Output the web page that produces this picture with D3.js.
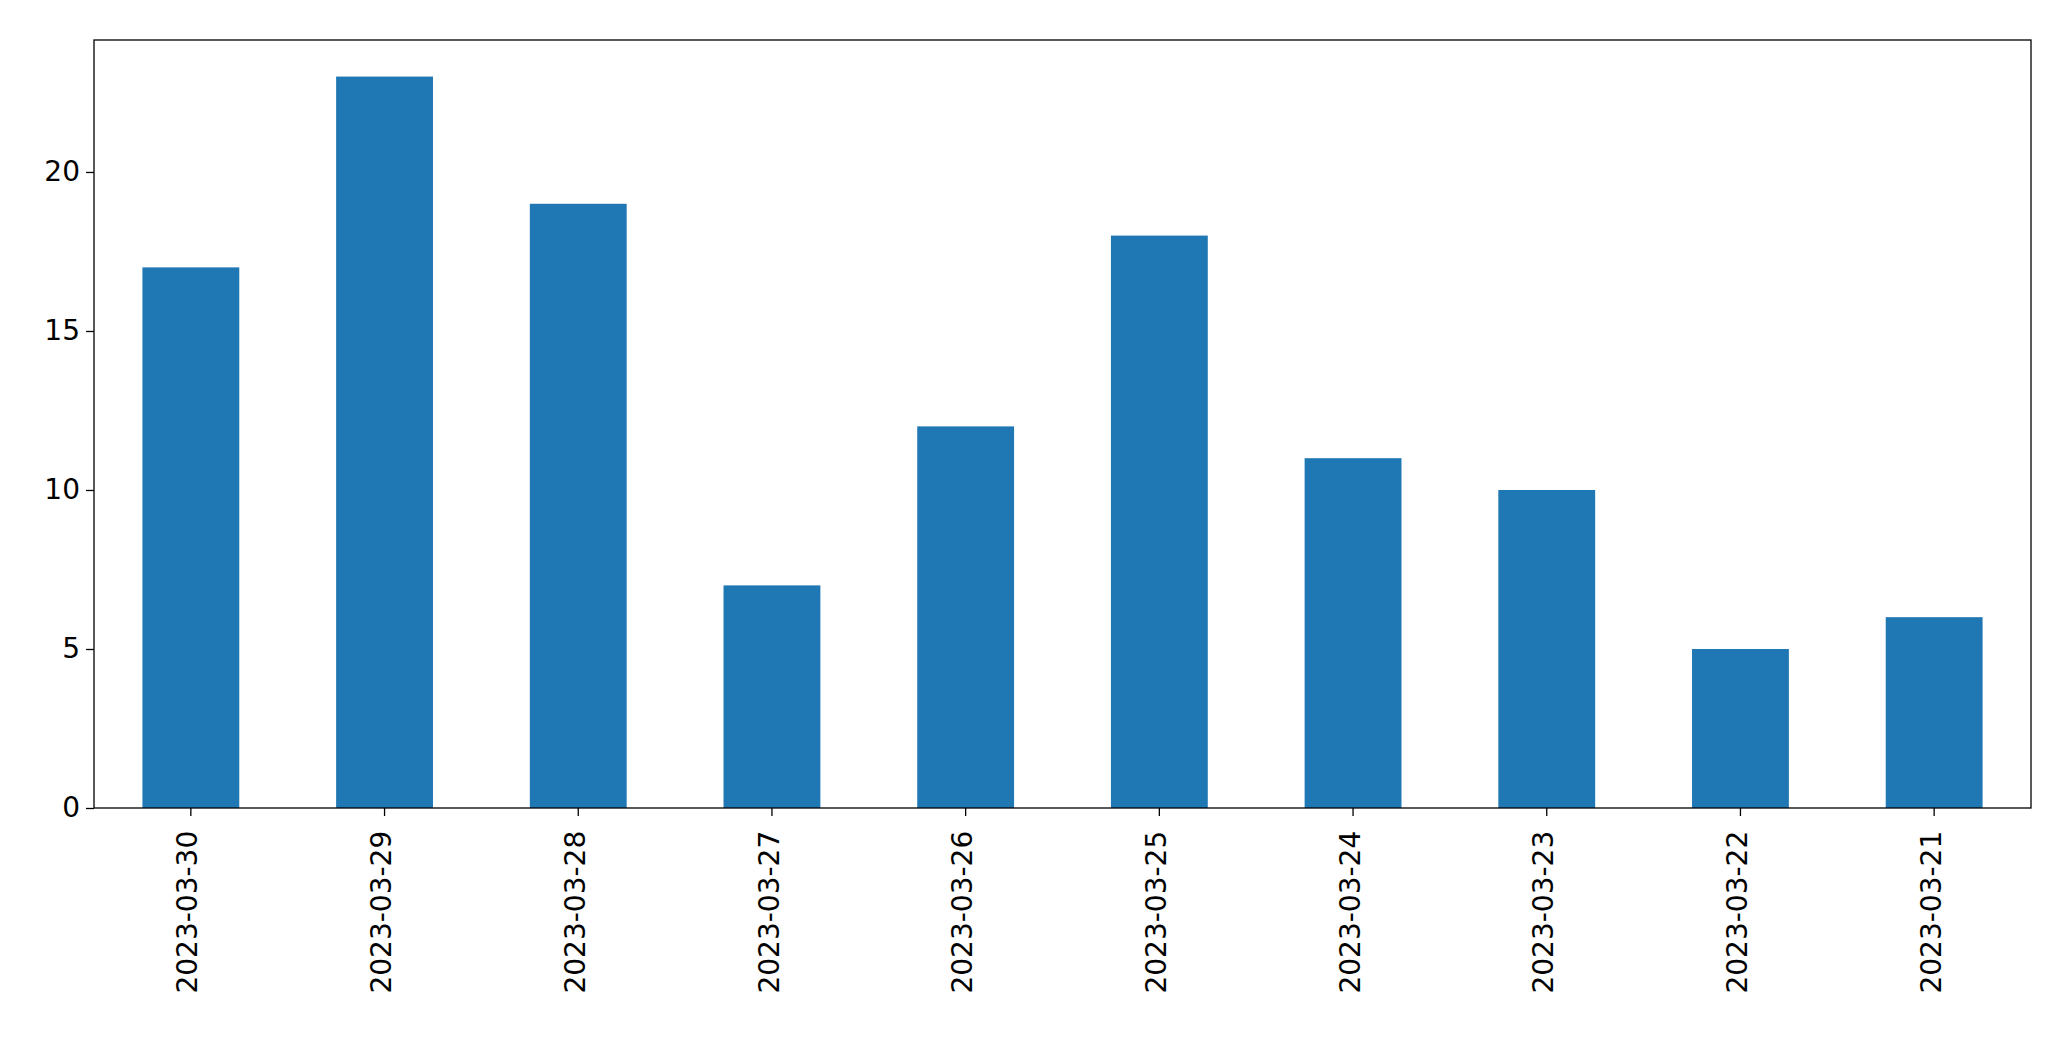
<!DOCTYPE html>
<html><head><meta charset="utf-8">
<script src="https://cdn.jsdelivr.net/npm/d3@7"></script>
<style>body{margin:0;background:#fff}svg{display:block}text{font-family:"DejaVu Sans";}</style>
</head><body><svg id="c" width="2071" height="1061"></svg>
<script>
const categories=["2023-03-30","2023-03-29","2023-03-28","2023-03-27","2023-03-26","2023-03-25","2023-03-24","2023-03-23","2023-03-22","2023-03-21"];
const values=[17,23,19,7,12,18,11,10,5,6];
const yTicks=[0,5,10,15,20];
const m={l:94,r:2071-2031,t:40,b:1061-808};
const W=2071,H=1061;
const svg=d3.select("#c");
const x=d3.scaleBand().domain(categories).range([m.l,W-m.r]).paddingInner(0.5).paddingOuter(0.25);
const y=d3.scaleLinear().domain([0,d3.max(values)*1.05]).range([H-m.b,m.t]);
svg.append("g").selectAll("rect").data(values).join("rect")
 .attr("x",(d,i)=>x(categories[i])).attr("width",x.bandwidth())
 .attr("y",d=>y(d)).attr("height",d=>y(0)-y(d)).attr("fill","#1f77b4");
const ya=svg.append("g").attr("transform",`translate(${m.l},0)`).call(d3.axisLeft(y).tickValues(yTicks).tickSize(8).tickPadding(6));
const xa=svg.append("g").attr("transform",`translate(0,${H-m.b})`).call(d3.axisBottom(x).tickSize(8).tickPadding(6));
xa.selectAll("text").attr("transform","rotate(-90)").attr("text-anchor","end").attr("dx","-0.6em").attr("dy","-0.05em").attr("x",-6).attr("y",0).style("dominant-baseline","middle");
[ya,xa].forEach(a=>{a.selectAll("text").attr("font-size",28).attr("fill","#000").attr("font-family","DejaVu Sans");a.select(".domain").remove();a.selectAll("line").attr("stroke","#000").attr("stroke-width",1.3);});
svg.append("rect").attr("x",m.l).attr("y",m.t).attr("width",W-m.l-m.r).attr("height",H-m.t-m.b).attr("fill","none").attr("stroke","#000").attr("stroke-width",1.3);
</script></body></html>
